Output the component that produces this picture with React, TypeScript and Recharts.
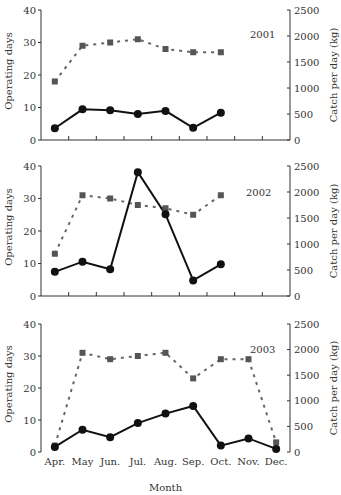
import { ComposedChart, Line, XAxis, YAxis } from "recharts";

const months = ["Apr.", "May", "Jun.", "Jul.", "Aug.", "Sep.", "Oct.", "Nov.", "Dec."];
const monthPos = [0.5, 1.5, 2.5, 3.5, 4.5, 5.5, 6.5, 7.5, 8.5];
const bandEdges = [1, 2, 3, 4, 5, 6, 7, 8];

const days2001 = [18, 29, 30, 31, 28, 27, 27, null, null];
const catch2001 = [225, 590, 570, 500, 560, 235, 525, null, null];
const days2002 = [13, 31, 30, 28, 27, 25, 31, null, null];
const catch2002 = [465, 660, 515, 2380, 1570, 300, 610, null, null];
const days2003 = [2, 31, 29, 30, 31, 23, 29, 29, 3];
const catch2003 = [100, 435, 290, 565, 750, 900, 125, 265, 60];

const daysTicks = [0, 10, 20, 30, 40];
const catchTicks = [0, 500, 1000, 1500, 2000, 2500];

const FONT = "DejaVu Serif";
const INK = "#333";
const txt = { fontSize: 10, fontFamily: FONT, fill: INK };

type Row = { x: number; days: number | null; catch: number | null };
const toRows = (d: (number | null)[], c: (number | null)[]): Row[] =>
  monthPos.map((x, i) => ({ x, days: d[i], catch: c[i] }));

const EdgeTick = (p: any) => (
  <line x1={p.x} x2={p.x} y1={p.y} y2={p.y - 4} stroke={INK} strokeWidth={1} />
);

const RightTick = (p: any) => (
  <g>
    <line x1={p.x - 3} x2={p.x} y1={p.y} y2={p.y} stroke={INK} strokeWidth={1} />
    <text x={p.x + 4} y={p.y} dy="0.35em" {...txt}>{p.payload.value}</text>
  </g>
);

const Square = (p: any) =>
  p.value == null || p.cy == null ? (
    <g key={p.index} />
  ) : (
    <rect key={p.index} x={p.cx - 3} y={p.cy - 3} width={6} height={6} fill="#555" />
  );

function Panel({ rows, year, top, height, yearPos, last }: {
  rows: Row[]; year: string; top: number; height: number; yearPos: [number, number]; last?: boolean;
}) {
  return (
    <div style={{ position: "absolute", left: 0, top, width: 341, height }}>
      <ComposedChart width={341} height={height} data={rows} margin={{ top: 10, right: 0, bottom: 0, left: 0 }}>
        <XAxis xAxisId="tm" dataKey="x" type="number" domain={[0, 9]} ticks={bandEdges}
          height={last ? 0 : 10} tickSize={0} tickMargin={0} tickLine={false}
          tick={<EdgeTick />} axisLine={{ stroke: INK }} />
        {last && (
          <XAxis xAxisId="lab" dataKey="x" type="number" domain={[0, 9]} ticks={monthPos}
            height={43} tickSize={0} tickMargin={6} tickLine={false} axisLine={false}
            tickFormatter={(v: number) => months[Math.floor(v)]} tick={txt} interval={0}
            label={{ value: "Month", position: "insideBottom", offset: 4, style: txt }} />
        )}
        <XAxis xAxisId="top" orientation="top" type="number" domain={[0, 9]} height={0}
          tick={false} tickLine={false} axisLine={{ stroke: INK }} />
        <YAxis yAxisId="d" orientation="left" width={41} domain={[0, 40]} ticks={daysTicks}
          tickSize={3} tickMargin={2} tick={txt} tickLine={{ stroke: INK }} axisLine={{ stroke: INK }}
          label={{ value: "Operating days", angle: -90, position: "insideLeft", offset: 8, dy: -4, style: { ...txt, textAnchor: "middle" } }} />
        <YAxis yAxisId="c" orientation="right" width={51} domain={[0, 2500]} ticks={catchTicks}
          tickSize={0} tickMargin={0} tickLine={false} tick={<RightTick />} axisLine={{ stroke: INK }}
          label={{ value: "Catch per day (kg)", angle: -90, position: "insideRight", offset: 8, style: { ...txt, textAnchor: "middle" } }} />
        <Line xAxisId="tm" yAxisId="d" dataKey="days" stroke="#666" strokeWidth={2}
          strokeDasharray="3 5" dot={Square} activeDot={false} isAnimationActive={false} />
        <Line xAxisId="tm" yAxisId="c" dataKey="catch" stroke="#111" strokeWidth={2}
          dot={{ r: 4, fill: "#111", stroke: "#111", strokeWidth: 0 }} activeDot={false} isAnimationActive={false} />
      </ComposedChart>
      <div style={{ position: "absolute", left: yearPos[0], top: yearPos[1], fontSize: 10, fontFamily: FONT, color: INK }}>
        {year}
      </div>
    </div>
  );
}

export default function App() {
  return (
    <div style={{ position: "absolute", left: 0, top: 0, width: 341, height: 495, background: "#fff" }}>
      <Panel rows={toRows(days2001, catch2001)} year="2001" top={0} height={150} yearPos={[250, 29]} />
      <Panel rows={toRows(days2002, catch2002)} year="2002" top={156} height={150} yearPos={[246, 31]} />
      <Panel rows={toRows(days2003, catch2003)} year="2003" top={314} height={181} yearPos={[250, 30]} last />
    </div>
  );
}
